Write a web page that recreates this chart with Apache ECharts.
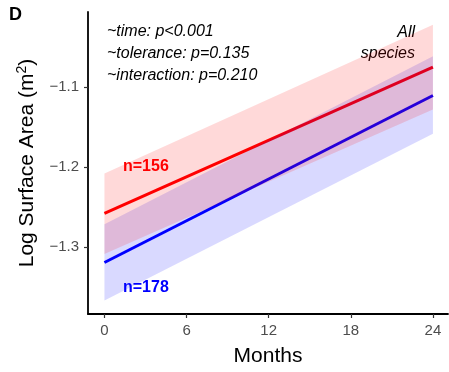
<!DOCTYPE html>
<html>
<head>
<meta charset="utf-8">
<script src="https://cdn.jsdelivr.net/npm/echarts@6/dist/echarts.min.js"></script>
<style>
  html, body { margin: 0; padding: 0; background: #fff; }
  #chart { width: 449px; height: 372px; }
</style>
</head>
<body>
<div id="chart"></div>
<script>
// months sampled by the fitted model
const months = [0, 24];
const xTicks = [0, 6, 12, 18, 24];
const yTicks = [-1.3, -1.2, -1.1];

// fitted lines
const redFit = [-1.258, -1.075];
const blueFit = [-1.3195, -1.1105];

// confidence bands
const redLow = [-1.309, -1.128];
const redHigh = [-1.208, -1.022];
const blueLow = [-1.367, -1.1585];
const blueHigh = [-1.2716, -1.0613];

const redLabel = 'n=156';
const blueLabel = 'n=178';
const statLines = ['~time: p<0.001', '~tolerance: p=0.135', '~interaction: p=0.210'];

const font = 'Liberation Sans, Arial, sans-serif';

// ribbons are drawn over the lines, like in the original plot
function band(low, high, color) {
  return {
    type: 'custom',
    silent: true,
    data: months.map((m, i) => [m, low[i], high[i]]),
    renderItem: function (params, api) {
      if (params.dataIndex !== 0) return null;
      const pts = [];
      for (let i = 0; i < months.length; i++) pts.push(api.coord([months[i], high[i]]));
      for (let i = months.length - 1; i >= 0; i--) pts.push(api.coord([months[i], low[i]]));
      return { type: 'polygon', shape: { points: pts }, style: { fill: color } };
    },
    z: 4
  };
}

function fit(values, color) {
  return {
    type: 'line',
    data: months.map((m, i) => [m, values[i]]),
    symbol: 'none',
    lineStyle: { color: color, width: 3 },
    z: 2
  };
}

const chart = echarts.init(document.getElementById('chart'));
chart.setOption({
  animation: false,
  textStyle: { fontFamily: font },
  grid: { left: 88, top: 12, width: 360, height: 310 },
  xAxis: {
    type: 'value',
    min: -1.2,
    max: 25.1,
    name: 'Months',
    nameLocation: 'middle',
    nameGap: 32,
    nameTextStyle: { fontSize: 21, color: '#000' },
    axisLine: { onZero: false, lineStyle: { color: '#000', width: 1.8 } },
    axisTick: { customValues: xTicks, length: 4, lineStyle: { color: '#333', width: 1.2 } },
    axisLabel: { customValues: xTicks, fontSize: 15, color: '#4d4d4d', margin: 9 },
    splitLine: { show: false }
  },
  yAxis: {
    type: 'value',
    min: -1.384,
    max: -1.006,
    name: 'Log Surface Area (m{sup|2})',
    nameLocation: 'middle',
    nameRotate: 90,
    nameGap: 49,
    nameTextStyle: {
      fontSize: 21,
      color: '#000',
      rich: { sup: { fontSize: 14, padding: [0, 0, 10, 0], color: '#000' } }
    },
    axisLine: { onZero: false, lineStyle: { color: '#000', width: 1.8 } },
    axisTick: { customValues: yTicks, length: 4, lineStyle: { color: '#333', width: 1.2 } },
    axisLabel: {
      customValues: yTicks,
      fontSize: 15,
      color: '#4d4d4d',
      margin: 9,
      formatter: v => v.toFixed(1).replace('-', '\u2212')
    },
    splitLine: { show: false }
  },
  series: [
    fit(redFit, '#f00'),
    fit(blueFit, '#00f'),
    band(blueLow, blueHigh, 'rgba(0,0,255,0.15)'),
    band(redLow, redHigh, 'rgba(255,0,0,0.15)')
  ],
  graphic: [
    { type: 'text', x: 9, y: 6, style: { text: 'D', font: 'bold 18px ' + font, fill: '#000' } },
    { type: 'text', x: 107, y: 21, style: { text: statLines.join('\n'), font: 'italic 16px ' + font, lineHeight: 22, fill: '#000' } },
    { type: 'text', x: 415, y: 22, style: { text: 'All\nspecies', font: 'italic 16px ' + font, lineHeight: 21, align: 'right', fill: '#000' } },
    { type: 'text', x: 123, y: 159, style: { text: redLabel, font: 'bold 16px ' + font, fill: '#f00' } },
    { type: 'text', x: 123, y: 280, style: { text: blueLabel, font: 'bold 16px ' + font, fill: '#00f' } }
  ]
});
</script>
</body>
</html>
